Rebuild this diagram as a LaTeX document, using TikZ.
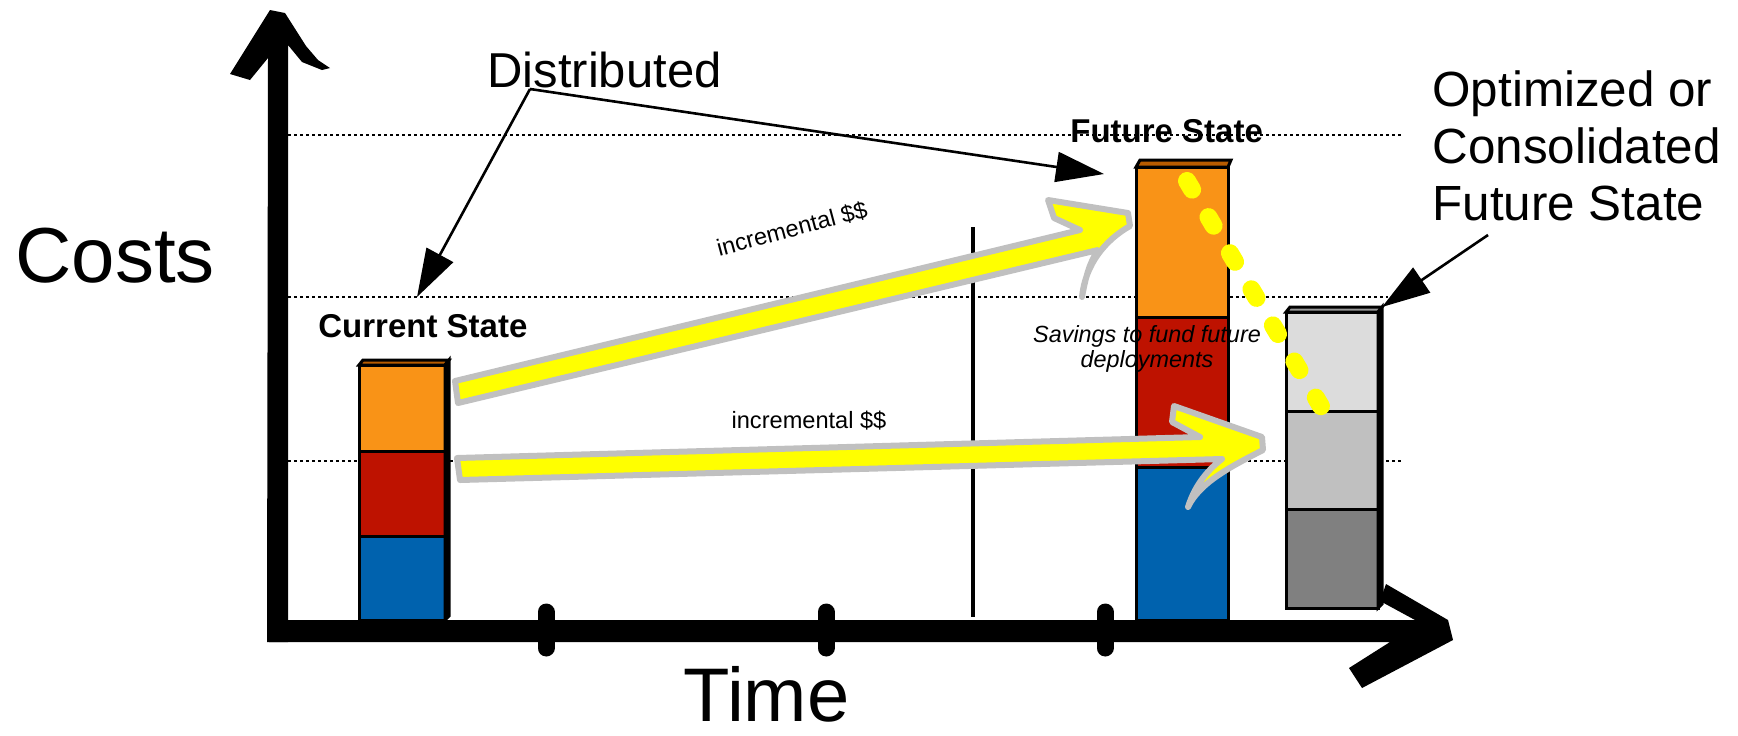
\documentclass[tikz,border=0pt]{standalone}
\usepackage{fontspec}
\setmainfont{Liberation Sans}
\usetikzlibrary{arrows.meta}

\definecolor{barorange}{HTML}{F99317}
\definecolor{barred}{HTML}{BE1200}
\definecolor{barblue}{HTML}{0062AE}
\definecolor{bartop}{HTML}{B85C00}
\definecolor{graylight}{HTML}{DCDCDC}
\definecolor{graymid}{HTML}{C0C0C0}
\definecolor{graydark}{HTML}{808080}
\definecolor{graytop}{HTML}{9A9A9A}
\definecolor{hilite}{HTML}{FFFF00}
\definecolor{hiliteedge}{HTML}{C0C0C0}

\begin{document}
\begin{tikzpicture}[x=0.5pt, y=-0.5pt,
  seg/.style={draw=black, line width=1.5pt},
  level/.style={line width=1.2pt, dash pattern=on 1.4pt off 1.6pt},
  fat/.style={fill=hilite, draw=hiliteedge, line width=3pt, line join=round},
  callout/.style={line width=1.3pt, -{Triangle[length=24pt, width=15pt]}},
  tick/.style={line width=8.5pt, line cap=round}]
  \useasboundingbox (0,0) rectangle (1738,735);

  % Dotted cost levels
  \draw[level] (288,135) -- (1402,135);
  \draw[level] (288,297) -- (1388,297);
  \draw[level] (288,461) -- (1402,461);

  % Divider between now and later
  \draw[line width=2pt] (973,227) -- (973,617);

  % Current state bar
  \filldraw[seg, fill=barblue]   (359,536) rectangle (445,620);
  \filldraw[seg, fill=barred]    (359,451) rectangle (445,536);
  \filldraw[seg, fill=barorange] (359,365) rectangle (445,451);
  \filldraw[seg, fill=bartop] (359,365) -- (363,360) -- (449,360) -- (445,365) -- cycle;
  \filldraw[seg, fill=black]  (445,365) -- (449,360) -- (449,616) -- (445,620) -- cycle;

  % Future state bar
  \filldraw[seg, fill=barblue]   (1136,467) rectangle (1228,620);
  \filldraw[seg, fill=barred]    (1136,317) rectangle (1228,467);
  \filldraw[seg, fill=barorange] (1136,167) rectangle (1228,317);
  \filldraw[seg, fill=bartop] (1136,167) -- (1140,160) -- (1231,160) -- (1228,167) -- cycle;

  % Consolidated bar
  \filldraw[seg, fill=graydark]  (1286,509) rectangle (1378,608);
  \filldraw[seg, fill=graymid]   (1286,411) rectangle (1378,509);
  \filldraw[seg, fill=graylight] (1286,312) rectangle (1378,411);
  \filldraw[seg, fill=graytop] (1286,312) -- (1290,307) -- (1382,307) -- (1378,312) -- cycle;
  \filldraw[seg, fill=black]   (1378,312) -- (1382,307) -- (1382,604) -- (1378,608) -- cycle;

  % Yellow growth arrows
  \filldraw[fat] (455,381) -- (1080,230) -- (1054,218) -- (1048,200) -- (1128,213)
    -- (1130,226) .. controls (1105,240) and (1085,265) .. (1082,297)
    .. controls (1086,275) and (1090,262) .. (1098,250) -- (458,403) -- cycle;
  \filldraw[fat] (457,458) -- (1200,437) -- (1172,422) -- (1174,406) -- (1262,437)
    -- (1263,450) .. controls (1232,466) and (1200,482) .. (1188,507)
    .. controls (1194,488) and (1205,472) .. (1222,459) -- (460,480) -- cycle;

  % Savings trail
  \draw[hilite, line width=9pt, line cap=round, dash pattern=on 5pt off 16pt]
    (1187,181) -- (1322,408);

  % Axes
  \fill (267,642) -- (268,58) -- (250,80) -- (230,74) -- (270,10) -- (285,13)
    -- (306,46) -- (318,60) -- (330,68) -- (322,70) -- (302,62) -- (288,45) -- (288,642) -- cycle;
  \fill (267,620) -- (1415,620) -- (1380,601) -- (1386,584) -- (1448,620)
    -- (1453,640) -- (1362,688) -- (1349,668) -- (1390,642) -- (269,642) -- cycle;
  \foreach \tx in {546,826,1105}
    \draw[tick] (\tx,612) -- (\tx,648);

  % Labels
  \node[font=\fontsize{39}{39}\selectfont, anchor=base west, inner sep=0] (costs) at (15,282) {Costs};
  \node[font=\fontsize{38}{38}\selectfont, anchor=base west, inner sep=0] (time) at (683,721) {Time};
  \node[font=\fontsize{24.5}{28}\selectfont, anchor=base west, inner sep=0] (dist) at (487,87) {Distributed};
  \node[font=\fontsize{24.7}{28.5}\selectfont, align=left, anchor=base west, inner sep=0] (optim)
    at (1432,220) {Optimized or\\Consolidated\\Future State};
  \node[font=\fontsize{16.5}{18}\selectfont\bfseries, anchor=base west, inner sep=0] (curlabel)
    at (318,337) {Current State};
  \node[font=\fontsize{16.5}{18}\selectfont\bfseries, anchor=base west, inner sep=0] (futlabel)
    at (1070,142) {Future State};
  \node[font=\fontsize{11.8}{13}\selectfont, rotate=15, inner sep=0] (incup) at (792,229) {incremental \$\$};
  \node[font=\fontsize{11.8}{13}\selectfont, anchor=base, inner sep=0] (inclow) at (809,428) {incremental \$\$};
  \node[font=\fontsize{11.7}{12.5}\selectfont\itshape, align=center, anchor=base, inner sep=0] (savings)
    at (1147,367) {Savings to fund future\\deployments};

  % Call-out arrows
  \coordinate (dfork) at (530,89);
  \coordinate (curtip) at (417,297);
  \coordinate (futtip) at (1104,174);
  \coordinate (optstart) at (1488,235);
  \coordinate (opttip) at (1382,307);
  \draw[callout] (dfork) -- (curtip);
  \draw[callout] (dfork) -- (futtip);
  \draw[callout] (optstart) -- (opttip);
\end{tikzpicture}
\end{document}
